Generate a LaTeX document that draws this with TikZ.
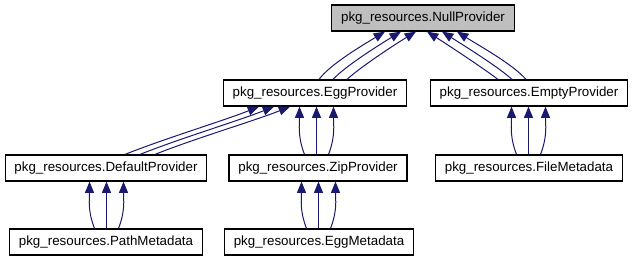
\documentclass[tikz,border=0pt]{standalone}
\usepackage{fontspec}
\setmainfont{Liberation Sans}
\usetikzlibrary{arrows.meta,calc}
\definecolor{edgeblue}{HTML}{191970}
\definecolor{rootgray}{HTML}{BFBFBF}

% Three parallel inheritance edges from a child straight up to its parent:
% #1 child node, #2 parent node, #3 horizontal offset of the middle edge.
\newcommand\inhtriple[3]{%
  \coordinate (m0) at ($(#1.north)+(#3,0)$);
  \coordinate (m1) at (m0 |- #2.south);
  \draw[rel] (m0) -- (m1);
  \draw[rel] ($(m0)+(-12,0)$) .. controls ($(m0)+(-19,-18)$) and ($(m1)+(-17,18)$) .. ($(m1)+(-17,0)$);
  \draw[rel] ($(m0)+(12,0)$) .. controls ($(m0)+(19,-18)$) and ($(m1)+(17,18)$) .. ($(m1)+(17,0)$);
}

\begin{document}
\begin{tikzpicture}[x=0.75pt,y=-0.75pt,
  cls/.style={draw=black, line width=0.9pt, fill=white, minimum height=19.5pt,
              inner xsep=7pt, inner ysep=0pt, font=\fontsize{10pt}{12pt}\selectfont},
  root/.style={cls, fill=rootgray},
  rel/.style={draw=edgeblue, line width=0.75pt, -{Triangle[length=8.5pt,width=6.8pt]}},
]
\useasboundingbox (0,0) rectangle (634,261);

% class boxes
\node[root] (null)  at (423,18)  {pkg\_resources.NullProvider};
\node[cls]  (egg)   at (315,93)  {pkg\_resources.EggProvider};
\node[cls]  (empty) at (529,93)  {pkg\_resources.EmptyProvider};
\node[cls]  (dflt)  at (106,168) {pkg\_resources.DefaultProvider};
\node[cls]  (zip)   at (318,168) {pkg\_resources.ZipProvider};
\node[cls]  (file)  at (529,168) {pkg\_resources.FileMetadata};
\node[cls]  (path)  at (106,242) {pkg\_resources.PathMetadata};
\node[cls]  (eggmd) at (319,242) {pkg\_resources.EggMetadata};

% EggProvider -> NullProvider
\draw[rel] ($(egg.north)+(4,0)$)  .. controls ($(egg.north)+(15,-15)$) and ($(null.south)+(-61,14)$) .. ($(null.south)+(-38,0)$);
\draw[rel] ($(egg.north)+(18,0)$) .. controls ($(egg.north)+(30,-13)$) and ($(null.south)+(-45,14)$) .. ($(null.south)+(-22,0)$);
\draw[rel] ($(egg.north)+(32,0)$) .. controls ($(egg.north)+(45,-12)$) and ($(null.south)+(-30,14)$) .. ($(null.south)+(-7,0)$);

% EmptyProvider -> NullProvider
\draw[rel] ($(empty.north)+(-31,0)$) .. controls ($(empty.north)+(-44,-10)$) and ($(null.south)+(26,14)$) .. ($(null.south)+(4,0)$);
\draw[rel] ($(empty.north)+(-17,0)$) .. controls ($(empty.north)+(-30,-12)$) and ($(null.south)+(41,14)$) .. ($(null.south)+(19,0)$);
\draw[rel] ($(empty.north)+(-3,0)$)  .. controls ($(empty.north)+(-16,-15)$) and ($(null.south)+(56,14)$) .. ($(null.south)+(34,0)$);

% DefaultProvider -> EggProvider
\draw[rel] ($(dflt.north)+(19,0)$) .. controls ($(dflt.north)+(59,-16)$) and ($(egg.south)+(-91,14)$) .. ($(egg.south)+(-56,0)$);
\draw[rel] ($(dflt.north)+(34,0)$) .. controls ($(dflt.north)+(74,-16)$) and ($(egg.south)+(-76,14)$) .. ($(egg.south)+(-41,0)$);
\draw[rel] ($(dflt.north)+(49,0)$) .. controls ($(dflt.north)+(89,-16)$) and ($(egg.south)+(-60,14)$) .. ($(egg.south)+(-25,0)$);

% straight-up bundles
\inhtriple{zip}{egg}{-1.5}
\inhtriple{eggmd}{zip}{-0.5}
\inhtriple{path}{dflt}{0.5}
\inhtriple{file}{empty}{-0.5}
\end{tikzpicture}
\end{document}
